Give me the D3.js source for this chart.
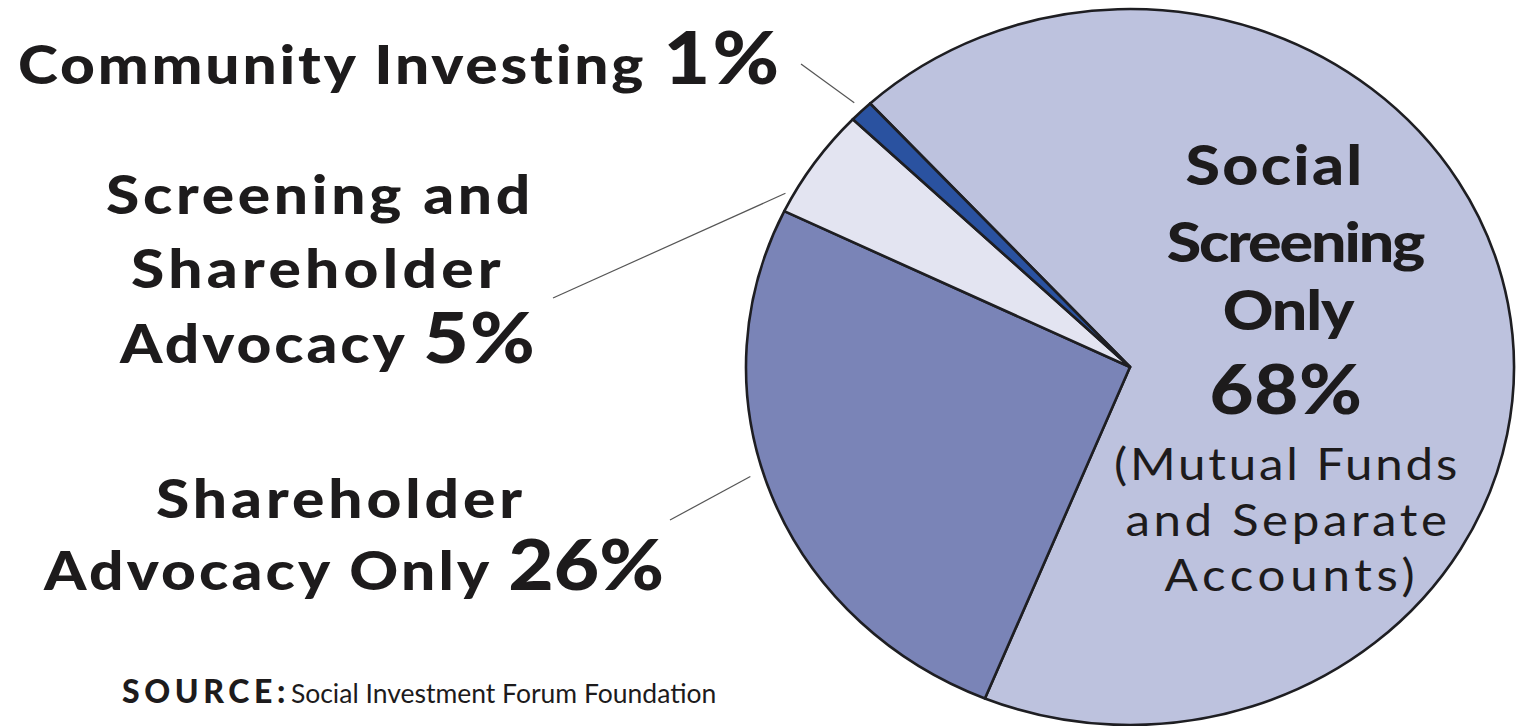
<!DOCTYPE html>
<html>
<head>
<meta charset="utf-8">
<script src="https://cdn.jsdelivr.net/npm/d3@7"></script>
<style>
  body { margin: 0; background: #fff; }
  svg { display: block; }
  text { font-family: Lato, "Open Sans", sans-serif; fill: #1d1b1c; }
</style>
</head>
<body>
<div class="chart"></div>
<script>

// slices, clockwise from the top-left boundary
var categories = ["Social Screening Only", "Shareholder Advocacy Only", "Screening and Shareholder Advocacy", "Community Investing"];
var shares = [68, 26, 5, 1];
var colors = ["#bdc2de", "#7a84b7", "#e3e4f1", "#2a52a0"];

var width = 1516;
var height = 726;

var cx = 1130, cy = 367;
var rx = 384, ry = 358;
var startDeg = -42.6;

var svg = d3.select('.chart')
    .append('svg')
    .attr('width', width)
    .attr('height', height);

var pie = d3.pie()
    .sort(null)
    .value(d => d)
    .startAngle(startDeg * Math.PI / 180)
    .endAngle((startDeg + 360) * Math.PI / 180);

var arc = d3.arc()
    .innerRadius(0)
    .outerRadius(ry);

// the pie in the picture is a little wider than tall
var gPie = svg.append('g')
    .attr('transform', 'translate(' + cx + ',' + cy + ') scale(' + (rx / ry) + ',1)');

gPie.selectAll('path')
    .data(pie(shares))
    .enter()
    .append('path')
    .attr('d', arc)
    .attr('fill', (d, i) => colors[i])
    .attr('stroke', '#1e1e22')
    .attr('stroke-width', 2.6)
    .attr('stroke-linejoin', 'round')
    .attr('vector-effect', 'non-scaling-stroke');

// leader lines: label end, then angle (deg) and radius factor on the pie edge
var leaders = [
    { x: 801, y: 64, angle: -44.2, k: 1.03 },
    { x: 553, y: 298, angle: -61.6, k: 1.02 },
    { x: 670, y: 520, angle: -107.2, k: 1.035 }
];

svg.selectAll('.leader')
    .data(leaders)
    .enter()
    .append('line')
    .attr('class', 'leader')
    .attr('x1', d => d.x)
    .attr('y1', d => d.y)
    .attr('x2', d => cx + rx * d.k * Math.sin(d.angle * Math.PI / 180))
    .attr('y2', d => cy - ry * d.k * Math.cos(d.angle * Math.PI / 180))
    .attr('stroke', '#555')
    .attr('stroke-width', 1.2);

// labels are drawn a bit stretched, the source font is wider than Lato
var sx = 1.12;
function label(x, y, anchor) {
    return svg.append('text')
        .attr('transform', 'translate(' + x + ',' + y + ') scale(' + sx + ',1)')
        .attr('text-anchor', anchor)
        .style('font-weight', 900)
        .style('font-size', '54px');
}

// outside labels
var t1 = label(18, 84, 'start');
t1.append('tspan').style('letter-spacing', '2.5px').text('Community Investing ');
t1.append('tspan').style('font-size', '72px').style('letter-spacing', '2px').text(shares[3] + '%');

var t2a = label(320, 214, 'middle');
t2a.append('tspan').style('letter-spacing', '3.3px').text('Screening and');
var t2b = label(318, 288, 'middle');
t2b.append('tspan').style('letter-spacing', '3.8px').text('Shareholder');
var t2c = label(328, 363, 'middle');
t2c.append('tspan').style('letter-spacing', '2.6px').text('Advocacy ');
t2c.append('tspan').style('font-size', '70px').style('letter-spacing', '1px').text(shares[2] + '%');

var t3a = label(341, 518, 'middle');
t3a.append('tspan').style('letter-spacing', '3.5px').text('Shareholder');
var t3b = label(354, 590, 'middle');
t3b.append('tspan').style('letter-spacing', '2.8px').text('Advocacy Only ');
t3b.append('tspan').style('font-size', '70px').style('letter-spacing', '0px').text(shares[1] + '%');

// label inside the big slice
var t4a = label(1275, 185, 'middle').style('font-size', '56px');
t4a.append('tspan').style('letter-spacing', '2px').text('Social');
var t4b = label(1295, 262, 'middle').style('font-size', '56px');
t4b.append('tspan').style('letter-spacing', '-1.9px').text('Screening');
var t4c = label(1288, 330, 'middle').style('font-size', '56px');
t4c.append('tspan').style('letter-spacing', '-1px').text('Only');
var t4d = label(1286, 414, 'middle').style('font-size', '68px');
t4d.append('tspan').style('letter-spacing', '0.5px').text(shares[0] + '%');

var subLines = [['(Mutual Funds', 1287, 480, 2.5], ['and Separate', 1288, 536, 3.2], ['Accounts)', 1292, 591, 4.2]];
subLines.forEach(function (s) {
    label(s[1], s[2], 'middle')
        .style('font-weight', 400)
        .style('font-size', '44px')
        .append('tspan')
        .style('letter-spacing', s[3] + 'px')
        .text(s[0]);
});

// source line
var src = svg.append('text')
    .attr('x', 122)
    .attr('y', 703);
src.append('tspan').style('font-weight', 900).style('font-size', '32px').style('letter-spacing', '4.6px').text('SOURCE:');
src.append('tspan').style('font-weight', 400).style('font-size', '26.5px').attr('dx', 1).text('Social Investment Forum Foundation');

</script>
</body>
</html>
